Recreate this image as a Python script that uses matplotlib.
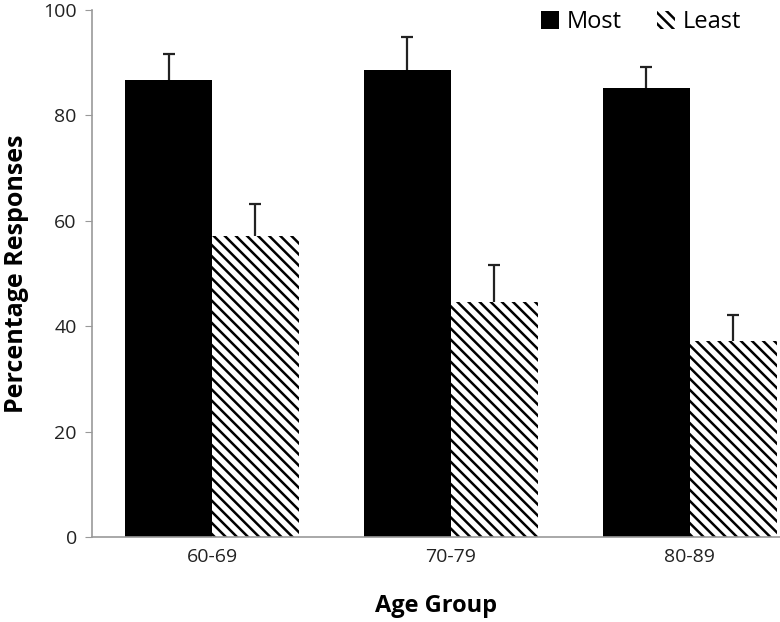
import numpy as np
import matplotlib
matplotlib.use('Agg')
import matplotlib.pyplot as plt

groups = ['60-69', '70-79', '80-89']
most = [86.7, 88.7, 85.1]
most_err = [4.9, 6.1, 4.1]
least = [57.1, 44.5, 37.1]
least_err = [6.0, 7.1, 5.0]

plt.rcParams['font.family'] = ['Open Sans', 'DejaVu Sans']
plt.rcParams['hatch.linewidth'] = 1.8
plt.rcParams['hatch.color'] = 'black'

fig = plt.figure(figsize=(7.8, 6.22), dpi=100)
ax = fig.add_axes([0.118, 0.1367, 0.882, 0.8473])

x = np.arange(len(groups))
w = 0.364
err_kw = dict(ecolor='#222222', elinewidth=1.6, capsize=4, capthick=1.6)

b1 = ax.bar(x - w / 2, most, w, color='black', edgecolor='black', linewidth=0,
            label='Most', yerr=[np.zeros(3), most_err], error_kw=err_kw)
b2 = ax.bar(x + w / 2, least, w, color='white', edgecolor='black', linewidth=0,
            hatch='\\\\\\', label='Least', yerr=[np.zeros(3), least_err], error_kw=err_kw)

# only the upper cap is shown
for b in (b1, b2):
    caps = b.errorbar.lines[1]
    caps[0].set_visible(False)

ax.set_ylim(0, 100)
ax.set_xlim(-0.502, 2.377)
ax.set_yticks(range(0, 101, 20))
ax.set_xticks(x)
ax.set_xticklabels(groups)
ax.tick_params(axis='y', length=5, color='#999999', labelsize=14, pad=6, labelcolor='#222222')
ax.tick_params(axis='x', length=0, labelsize=14, pad=8, labelcolor='#222222')

for s in ['top', 'right']:
    ax.spines[s].set_visible(False)
for s in ['left', 'bottom']:
    ax.spines[s].set_color('#999999')
    ax.spines[s].set_linewidth(1.2)

ax.set_xlabel('Age Group', fontsize=17, fontweight='bold', labelpad=20)
ax.set_ylabel('Percentage Responses', fontsize=18, fontweight='bold', labelpad=10)

ax.legend(loc='upper right', bbox_to_anchor=(0.975, 1.04), ncol=2, frameon=False,
          fontsize=17, handlelength=0.75, handleheight=0.75, handletextpad=0.35,
          columnspacing=1.5)

fig.savefig('out.png', dpi=100)
